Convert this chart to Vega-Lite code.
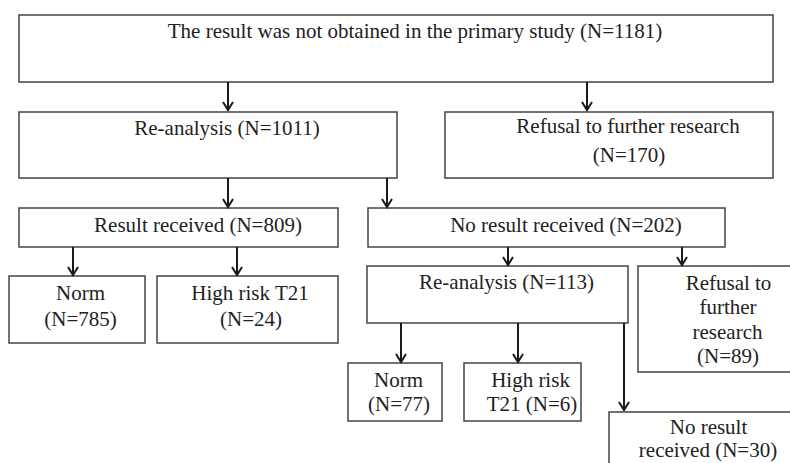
{
  "$schema": "https://vega.github.io/schema/vega-lite/v6.json",
  "width": 790,
  "height": 463,
  "padding": 0,
  "autosize": {"type": "fit", "contains": "padding"},
  "background": "white",
  "config": {"view": {"stroke": null}},
  "datasets": {
    "boxes": [
      {"id": "primary", "x1": 19, "x2": 773, "y1": 15, "y2": 82},
      {"id": "reanalysis1", "x1": 19, "x2": 397, "y1": 112, "y2": 178},
      {"id": "refusal1", "x1": 445, "x2": 773, "y1": 112, "y2": 178},
      {"id": "received", "x1": 19, "x2": 338, "y1": 208, "y2": 247},
      {"id": "noresult1", "x1": 368, "x2": 725, "y1": 208, "y2": 247},
      {"id": "norm1", "x1": 9, "x2": 145, "y1": 276, "y2": 343},
      {"id": "highrisk1", "x1": 157, "x2": 338, "y1": 276, "y2": 343},
      {"id": "reanalysis2", "x1": 367, "x2": 628, "y1": 266, "y2": 323},
      {"id": "refusal2", "x1": 638, "x2": 800, "y1": 266, "y2": 372},
      {"id": "norm2", "x1": 348, "x2": 442, "y1": 363, "y2": 421},
      {"id": "highrisk2", "x1": 464, "x2": 581, "y1": 363, "y2": 421},
      {"id": "noresult2", "x1": 609, "x2": 800, "y1": 412, "y2": 475}
    ],
    "labels": [
      {"label": "The result was not obtained in the primary study (N=1181)", "x": 415, "y": 38},
      {"label": "Re-analysis (N=1011)", "x": 227, "y": 135},
      {"label": "Refusal to further research", "x": 628, "y": 133},
      {"label": "(N=170)", "x": 629, "y": 162},
      {"label": "Result received (N=809)", "x": 198, "y": 232},
      {"label": "No result received (N=202)", "x": 566, "y": 232},
      {"label": "Norm", "x": 80.5, "y": 300},
      {"label": "(N=785)", "x": 80.5, "y": 326},
      {"label": "High risk T21", "x": 250, "y": 300},
      {"label": "(N=24)", "x": 251, "y": 326},
      {"label": "Re-analysis (N=113)", "x": 506.5, "y": 289},
      {"label": "Refusal to", "x": 728.5, "y": 290},
      {"label": "further", "x": 728, "y": 314},
      {"label": "research", "x": 727.5, "y": 339},
      {"label": "(N=89)", "x": 728, "y": 363},
      {"label": "Norm", "x": 398.5, "y": 387},
      {"label": "(N=77)", "x": 399, "y": 411},
      {"label": "High risk", "x": 530.5, "y": 387},
      {"label": "T21 (N=6)", "x": 532, "y": 411},
      {"label": "No result", "x": 708.5, "y": 434},
      {"label": "received (N=30)", "x": 708, "y": 457}
    ],
    "arrows": [
      {"x": 228, "y1": 82, "y2": 110},
      {"x": 587, "y1": 82, "y2": 110},
      {"x": 228, "y1": 178, "y2": 207},
      {"x": 387, "y1": 178, "y2": 207},
      {"x": 73, "y1": 247, "y2": 275},
      {"x": 237, "y1": 247, "y2": 275},
      {"x": 508, "y1": 247, "y2": 265},
      {"x": 682, "y1": 247, "y2": 265},
      {"x": 401, "y1": 323, "y2": 362},
      {"x": 518, "y1": 323, "y2": 362},
      {"x": 624, "y1": 323, "y2": 410}
    ]
  },
  "layer": [
    {
      "data": {"name": "boxes"},
      "mark": {"type": "rect", "fill": "white", "stroke": "#444444", "strokeWidth": 1.5, "clip": true},
      "encoding": {
        "x": {"field": "x1", "type": "quantitative", "scale": {"domain": [0, 790], "nice": false, "zero": false}, "axis": null},
        "x2": {"field": "x2"},
        "y": {"field": "y1", "type": "quantitative", "scale": {"domain": [0, 463], "nice": false, "zero": false, "reverse": true}, "axis": null},
        "y2": {"field": "y2"}
      }
    },
    {
      "data": {"name": "arrows"},
      "mark": {"type": "rule", "stroke": "#1a1a1a", "strokeWidth": 2},
      "encoding": {
        "x": {"field": "x", "type": "quantitative", "scale": {"domain": [0, 790], "nice": false, "zero": false}, "axis": null},
        "y": {"field": "y1", "type": "quantitative", "scale": {"domain": [0, 463], "nice": false, "zero": false, "reverse": true}, "axis": null},
        "y2": {"field": "y2"}
      }
    },
    {
      "data": {"name": "arrows"},
      "mark": {"type": "point", "shape": "M-1,-1.6L0,0L1,-1.6", "size": 100, "filled": false, "stroke": "#1a1a1a", "strokeWidth": 2, "opacity": 1},
      "encoding": {
        "x": {"field": "x", "type": "quantitative", "scale": {"domain": [0, 790], "nice": false, "zero": false}, "axis": null},
        "y": {"field": "y2", "type": "quantitative", "scale": {"domain": [0, 463], "nice": false, "zero": false, "reverse": true}, "axis": null}
      }
    },
    {
      "data": {"name": "labels"},
      "mark": {"type": "text", "font": "Times New Roman", "fontSize": 21, "color": "#222222", "align": "center", "baseline": "alphabetic"},
      "encoding": {
        "x": {"field": "x", "type": "quantitative", "scale": {"domain": [0, 790], "nice": false, "zero": false}, "axis": null},
        "y": {"field": "y", "type": "quantitative", "scale": {"domain": [0, 463], "nice": false, "zero": false, "reverse": true}, "axis": null},
        "text": {"field": "label"}
      }
    }
  ]
}
